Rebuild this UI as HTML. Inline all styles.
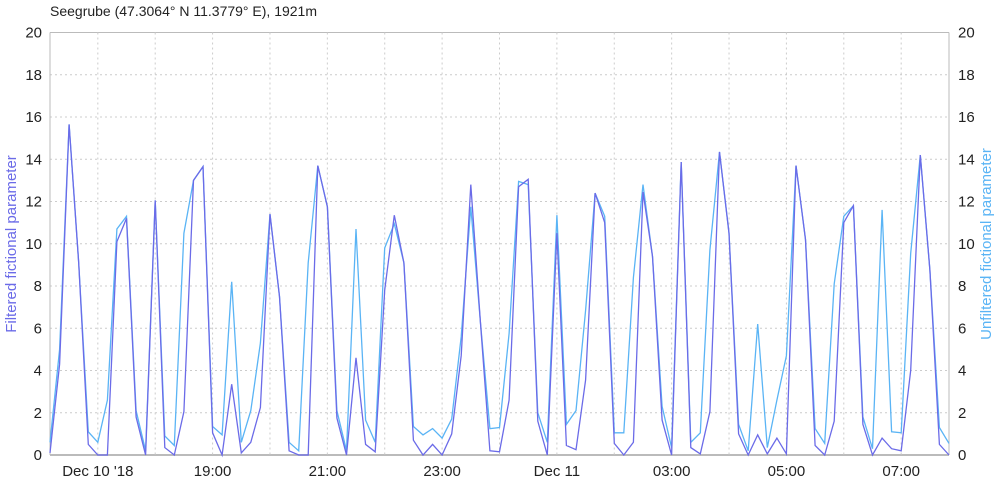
<!DOCTYPE html>
<html><head><meta charset="utf-8"><style>
body{margin:0;background:#fff;}
svg{display:block;font-family:"Liberation Sans",sans-serif;}
</style></head><body>
<svg id="chart" width="999" height="488">
<text x="50" y="16" font-size="14" fill="#222">Seegrube (47.3064° N 11.3779° E), 1921m</text>
<g id="grid"></g><g id="axes"></g><g id="series"></g>
<text transform="translate(16,244) rotate(-90)" text-anchor="middle" font-size="15" fill="#6b6be8">Filtered fictional parameter</text>
<text transform="translate(991,244) rotate(-90)" text-anchor="middle" font-size="15" fill="#5ab4f5">Unfiltered fictional parameter</text>
</svg>
<script>
const filtered=[0.1,4.3,15.65,9.1,0.5,0,0,10.1,11.2,1.8,0,12.05,0.35,0,2.05,13.0,13.65,1.05,0,3.35,0.1,0.6,2.25,11.4,
7.5,0.2,0,0,13.7,11.75,1.75,0,4.6,0.5,0.15,7.8,11.35,9.1,0.7,0,0.5,0,1.0,4.7,12.8,6.3,0.2,0.15,
2.6,12.7,13.05,1.6,0,10.5,0.45,0.25,3.55,12.4,11.0,0.55,0,0.6,12.45,9.4,1.65,0,13.87,0.35,0.05,2.05,14.35,
10.5,1.0,0,0.95,0.05,0.8,0.05,13.7,10.2,0.45,0,1.6,11.0,11.8,1.45,0,0.8,0.3,0.2,4.0,14.2,8.75,0.5,0];
const unfiltered=[0.6,5.0,15.65,9.1,1.1,0.6,2.6,10.7,11.3,2.1,0.2,12.05,0.9,0.45,10.5,13.0,13.65,1.35,0.95,8.2,0.6,2.1,5.3,11.4,
7.5,0.6,0.2,9.1,13.7,11.75,2.1,0.2,10.7,1.65,0.6,9.8,10.95,9.1,1.35,0.95,1.25,0.8,1.7,5.6,11.75,6.3,1.25,1.3,
5.75,12.95,12.8,2.0,0.6,11.35,1.45,2.1,6.85,12.4,11.3,1.05,1.05,8.4,12.8,9.4,2.3,0.35,13.87,0.6,1.05,9.7,14.35,
10.5,1.45,0.2,6.2,0.35,2.6,4.7,13.7,10.2,1.25,0.55,8.1,11.3,11.8,1.8,0.3,11.6,1.1,1.05,9.55,14.2,8.75,1.3,0.55];
const yTicks=[0,2,4,6,8,10,12,14,16,18,20];
const xLabels=["Dec 10 '18","19:00","21:00","23:00","Dec 11","03:00","05:00","07:00"];
const xLabelIdx=[5,17,29,41,53,65,77,89];
const X0=50,X1=949,Y0=455,Y1=32.5,N=filtered.length;
const xs=i=>X0+(X1-X0)*i/(N-1);
const ys=v=>Y0-(Y0-Y1)*v/20;
const NS='http://www.w3.org/2000/svg';
function mk(tag,parent,attrs){const e=document.createElementNS(NS,tag);for(const k in attrs)e.setAttribute(k,attrs[k]);document.getElementById(parent).appendChild(e);return e;}
yTicks.forEach(v=>{
  const l=mk('line','grid',{x1:X0,x2:X1,y1:ys(v),y2:ys(v),stroke:v===0||v===20?'#bbb':'#ccc','stroke-dasharray':v===0||v===20?'':'2,3','stroke-width':v===0?2:1});
  
  
  const t=mk('text','axes',{x:42,y:ys(v)+5,'text-anchor':'end','font-size':15,fill:'#222'});t.textContent=v;
  
  
  const t2=mk('text','axes',{x:958,y:ys(v)+5,'text-anchor':'start','font-size':15,fill:'#222'});t2.textContent=v;
  
  
});
for(let i=5;i<N;i+=6){
  const l=mk('line','grid',{x1:xs(i),x2:xs(i),y1:Y1,y2:Y0,stroke:'#ccc','stroke-dasharray':'2,3'});
  
  
}
xLabels.forEach((s,k)=>{
  const t=mk('text','axes',{x:xs(xLabelIdx[k]),y:476,'text-anchor':'middle','font-size':15,fill:'#222'});t.textContent=s;
  
  
});
const bl=mk('line','axes',{x1:X0,x2:X0,y1:Y1,y2:Y0,stroke:'#bbb'});


const br=mk('line','axes',{x1:X1,x2:X1,y1:Y1,y2:Y0,stroke:'#bbb'});


function pts(a){return a.map((v,i)=>xs(i).toFixed(1)+','+ys(v).toFixed(1)).join(' ');}
const pu=mk('polyline','series',{points:pts(unfiltered),fill:'none',stroke:'#5ab4f5','stroke-width':1.3});


const pf=mk('polyline','series',{points:pts(filtered),fill:'none',stroke:'#6b6be8','stroke-width':1.3});


</script>
</body></html>
